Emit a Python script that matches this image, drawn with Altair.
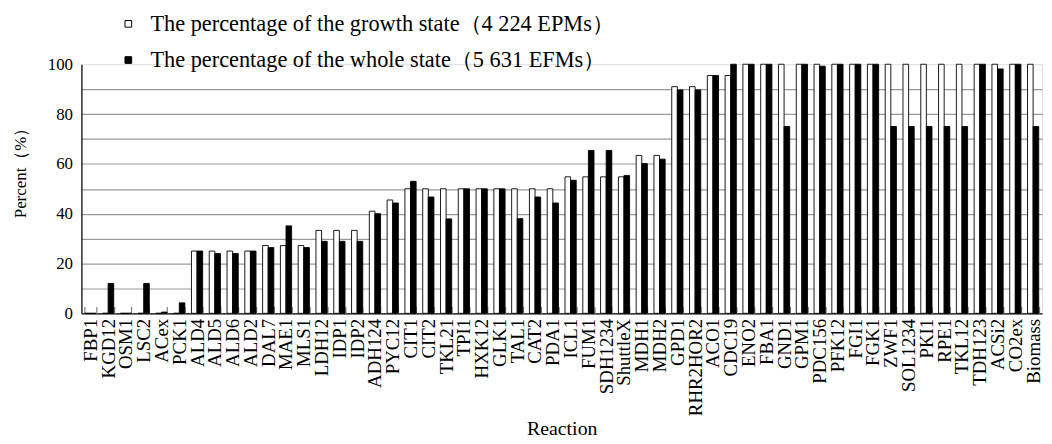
import altair as alt
import pandas as pd

categories = ["FBP1", "KGD12", "OSM1", "LSC2", "ACex", "PCK1", "ALD4", "ALD5", "ALD6", "ALD2",
              "DAL7", "MAE1", "MLS1", "LDH12", "IDP1", "IDP2", "ADH124", "PYC12", "CIT1", "CIT2",
              "TKL21", "TPI1", "HXK12", "GLK1", "TAL1", "CAT2", "PDA1", "ICL1", "FUM1", "SDH1234",
              "ShuttleX", "MDH1", "MDH2", "GPD1", "RHR2HOR2", "ACO1", "CDC19", "ENO2", "FBA1", "GND1",
              "GPM1", "PDC156", "PFK12", "FGI1", "FGK1", "ZWF1", "SOL1234", "PKI1", "RPE1", "TKL12",
              "TDH123", "ACSi2", "CO2ex", "Biomass"]

growth = [0, 0, 0, 0, 0, 0, 25, 25, 25, 25,
          27.2, 27.2, 27.2, 33.3, 33.3, 33.3, 41, 45.5, 50, 50,
          50, 50, 50, 50, 50, 50, 50, 54.8, 54.8, 54.8,
          54.8, 63.4, 63.4, 91, 91, 95.5, 95.5, 100, 100, 100,
          100, 100, 100, 100, 100, 100, 100, 100, 100, 100,
          100, 100, 100, 100]

whole = [0, 12, 0, 12, 0.5, 4.2, 25, 24, 24, 25,
         26.4, 35.1, 26.4, 28.9, 28.9, 28.9, 40, 44.3, 53, 46.7,
         37.9, 50, 50, 50, 38, 46.7, 44.3, 53.4, 65.4, 65.4,
         55.3, 60.1, 61.9, 89.7, 89.7, 95.5, 100, 100, 100, 75,
         100, 99.2, 100, 100, 100, 75, 75, 75, 75, 75,
         100, 98.1, 100, 75]

series_names = ["The percentage of the growth state（4 224 EPMs）",
                "The percentage of the whole state（5 631 EFMs）"]
series_colors = ["white", "black"]
y_ticks = [0, 10, 20, 30, 40, 50, 60, 70, 80, 90, 100]

rows = []
for c, g, w in zip(categories, growth, whole):
    rows.append({"Reaction": c, "series": series_names[0], "value": g})
    rows.append({"Reaction": c, "series": series_names[1], "value": w})
df = pd.DataFrame(rows)

FONT = "Liberation Serif"

chart = alt.Chart(df).mark_bar(stroke="black", strokeWidth=0.9).encode(
    x=alt.X("Reaction:N", sort=categories,
            scale=alt.Scale(paddingInner=0.37, paddingOuter=0.185),
            axis=alt.Axis(title="Reaction", labelAngle=270, labelFont=FONT, labelFontSize=19,
                          labelColor="black", labelPadding=5, labelOverlap=False, labelLimit=400,
                          tickBand="extent", tickSize=7, tickColor="#808080", tickWidth=1.2,
                          offset=-7, domain=False, grid=False,
                          titleFont=FONT, titleFontSize=20, titleFontWeight="normal",
                          titleColor="black", titleY=129, titleBaseline="alphabetic")),
    xOffset=alt.XOffset("series:N", sort=series_names,
                        scale=alt.Scale(paddingInner=0, paddingOuter=0)),
    y=alt.Y("value:Q", scale=alt.Scale(domain=[0, 100], nice=False),
            axis=alt.Axis(title="Percent（%）", values=y_ticks,
                          labelExpr="datum.value % 20 == 0 ? datum.label : ''",
                          labelFont=FONT, labelFontSize=17, labelColor="black",
                          labelPadding=9, labelOverlap=False, ticks=False, tickSize=0,
                          domain=True, domainColor="black", domainWidth=1.2,
                          grid=True, gridWidth=1.2,
                          gridColor={"condition": {"test": "datum.value == 0", "value": "black"},
                                     "value": "#9a9a9a"},
                          gridOpacity={"condition": {"test": "datum.value == 100", "value": 0},
                                       "value": 1},
                          titleFont=FONT, titleFontSize=17, titleFontWeight="normal",
                          titleColor="black", titleAngle=270, titleX=-61, titleY=105,
                          titleAlign="center", titleBaseline="middle")),
    color=alt.Color("series:N", sort=series_names,
                    scale=alt.Scale(domain=series_names, range=series_colors),
                    legend=alt.Legend(title=None, orient="none", legendX=36, legendY=-52,
                                      direction="vertical", symbolType="square", symbolSize=45,
                                      symbolStrokeColor="black", symbolStrokeWidth=1,
                                      labelFont=FONT, labelFontSize=22.5, labelColor="black",
                                      labelOffset=11, rowPadding=13.5, padding=0, labelLimit=700)),
).properties(
    width=968, height=251,
    autosize=alt.AutoSizeParams(type="none"),
    padding={"left": 74, "top": 55, "right": 2, "bottom": 130},
).configure_view(stroke=None).configure(background="white")

chart.save("out.html", embed_options={"renderer": "svg", "actions": False})
